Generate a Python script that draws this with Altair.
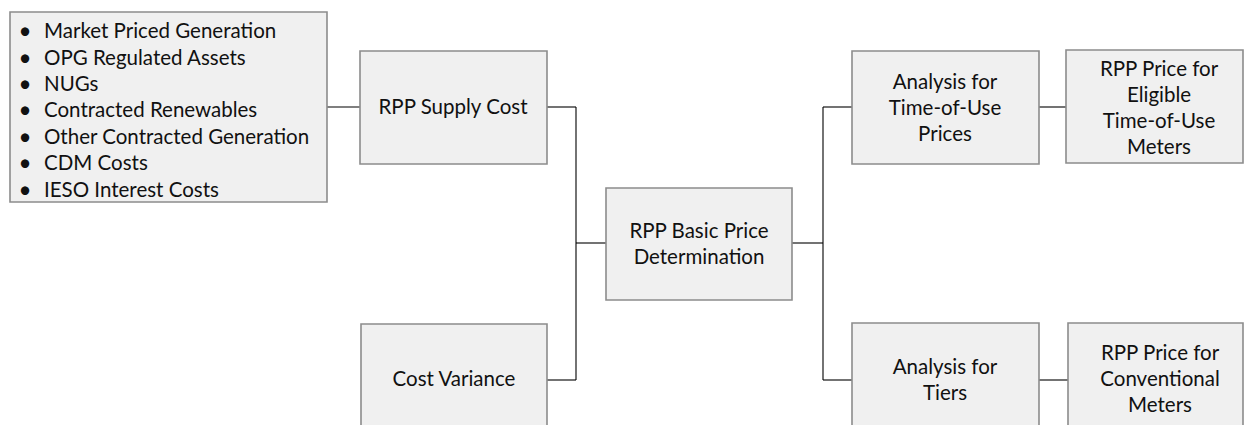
import altair as alt
import pandas as pd

# Boxes (page pixel coordinates)
box_names = ["sources", "supply", "variance", "basic", "tou", "eligible", "tiers", "conventional"]
box_x0 = [10, 360, 361, 606, 852, 1066, 852, 1068]
box_x1 = [327, 547, 547, 792, 1039, 1243, 1039, 1243]
box_y0 = [12, 51, 324, 188, 51, 50, 323, 323]
box_y1 = [202, 164, 440, 300, 164, 163, 440, 440]

# Box labels (centre of each text block)
label_text = [
    "RPP Supply Cost",
    "Cost Variance",
    "RPP Basic Price\nDetermination",
    "Analysis for\nTime-of-Use\nPrices",
    "RPP Price for\nEligible\nTime-of-Use\nMeters",
    "Analysis for\nTiers",
    "RPP Price for\nConventional\nMeters",
]
label_x = [453, 454, 699, 945, 1159, 945, 1160]
label_y = [108, 380, 245, 109, 109, 381, 380]
LINE_H = 26

# Bullet list
bullet_items = [
    "Market Priced Generation",
    "OPG Regulated Assets",
    "NUGs",
    "Contracted Renewables",
    "Other Contracted Generation",
    "CDM Costs",
    "IESO Interest Costs",
]
bullet_y = [32, 59, 85, 111, 138, 164, 191]
bullet_dot_x = [25] * 7
bullet_text_x = [44] * 7

# Connectors
seg_x0 = [327, 547, 576, 547, 576, 792, 823, 823, 823, 1039, 1039]
seg_x1 = [360, 576, 576, 576, 606, 823, 823, 852, 852, 1066, 1068]
seg_y0 = [107, 107, 107, 380, 243, 243, 107, 107, 380, 107, 380]
seg_y1 = [107, 107, 380, 380, 243, 243, 380, 107, 380, 107, 380]

boxes = pd.DataFrame({"name": box_names, "x0": box_x0, "x1": box_x1, "y0": box_y0, "y1": box_y1})

# one row per text line
rows = []
for t, cx, cy in zip(label_text, label_x, label_y):
    parts = t.split("\n")
    n = len(parts)
    for i, p in enumerate(parts):
        rows.append({"text": p, "x": cx, "y": cy + (i - (n - 1) / 2) * LINE_H})
labels = pd.DataFrame(rows)

bullets = pd.DataFrame({"text": bullet_items, "y": bullet_y, "dx": bullet_dot_x, "tx": bullet_text_x})
segs = pd.DataFrame({"x0": seg_x0, "x1": seg_x1, "y0": seg_y0, "y1": seg_y1})

W, H = 1236, 417
xs = alt.Scale(domain=[8, 8 + W], nice=False, zero=False)
ys = alt.Scale(domain=[8, 8 + H], nice=False, zero=False, reverse=True)
FONT = "Lato"
FS = 20.5
TXT = "#111111"

rects = alt.Chart(boxes).mark_rect(
    fill="#f0f0f0", stroke="#8c8c8c", strokeWidth=1.6, clip=True
).encode(
    x=alt.X("x0:Q", scale=xs, axis=None),
    x2="x1:Q",
    y=alt.Y("y0:Q", scale=ys, axis=None),
    y2="y1:Q",
)

rules = alt.Chart(segs).mark_rule(color="#000000", strokeWidth=1.1).encode(
    x=alt.X("x0:Q", scale=xs, axis=None),
    x2="x1:Q",
    y=alt.Y("y0:Q", scale=ys, axis=None),
    y2="y1:Q",
)

texts = alt.Chart(labels).mark_text(
    font=FONT, fontSize=FS, color=TXT, align="center", baseline="middle",
).encode(
    x=alt.X("x:Q", scale=xs, axis=None),
    y=alt.Y("y:Q", scale=ys, axis=None),
    text="text:N",
)

dots = alt.Chart(bullets).mark_text(
    font=FONT, fontSize=FS + 2, color=TXT, align="center", baseline="middle",
).encode(
    x=alt.X("dx:Q", scale=xs, axis=None),
    y=alt.Y("y:Q", scale=ys, axis=None),
    text=alt.value("•"),
)

items = alt.Chart(bullets).mark_text(
    font=FONT, fontSize=FS, color=TXT, align="left", baseline="middle",
).encode(
    x=alt.X("tx:Q", scale=xs, axis=None),
    y=alt.Y("y:Q", scale=ys, axis=None),
    text="text:N",
)

chart = alt.layer(rules, rects, texts, dots, items).properties(
    width=W, height=H, padding=0, autosize=alt.AutoSizeParams(type="none"),
    background="#ffffff",
).configure_view(stroke=None)

chart.save("out.html", embed_options={"renderer": "svg", "actions": False})
